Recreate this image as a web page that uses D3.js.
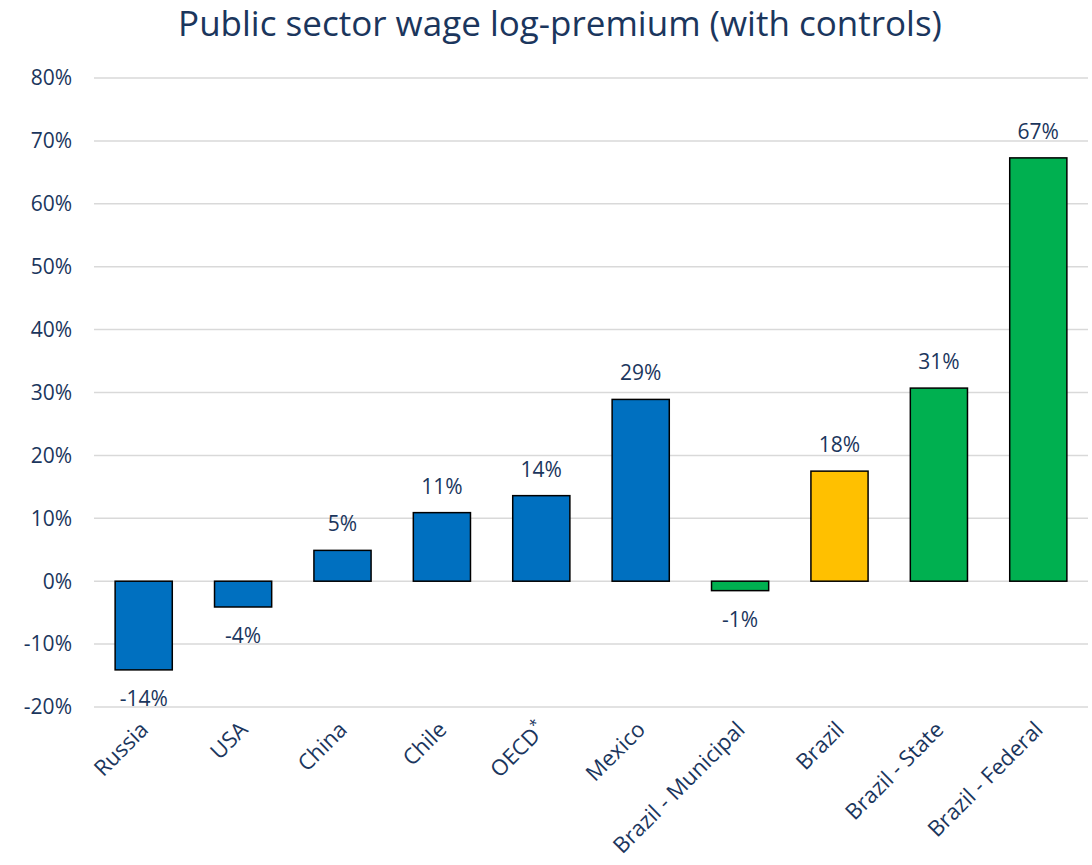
<!DOCTYPE html>
<html><head><meta charset="utf-8">
<script src="https://cdn.jsdelivr.net/npm/d3@7"></script>
<style>body{margin:0;background:#fff}svg{display:block}text{font-family:"Open Sans","Noto Sans",sans-serif;fill:#1b365d}</style>
</head><body><svg id="c" width="1092" height="865"></svg>
<script>
const categories = ["Russia","USA","China","Chile","OECD*","Mexico","Brazil - Municipal","Brazil","Brazil - State","Brazil - Federal"];
const values = [-14.1,-4.1,4.9,10.9,13.6,28.9,-1.5,17.5,30.7,67.3];
const labels = ["-14%","-4%","5%","11%","14%","29%","-1%","18%","31%","67%"];
const groups = ["other","other","other","other","other","other","brazilSub","brazil","brazilSub","brazilSub"];
const yTicks = [-20,-10,0,10,20,30,40,50,60,70,80];
const colors = {other:"#0070C0", brazil:"#FFC000", brazilSub:"#00B050"};

const svg = d3.select("#c");
const pLeft = 94, pRight = 1088, pTop = 78, pBottom = 707;
const x = d3.scaleBand().domain(categories).range([pLeft,pRight]).paddingInner(0.425).paddingOuter(0.2125);
const y = d3.scaleLinear().domain([-20,80]).range([pBottom, pTop]);

svg.append("text").attr("x",560).attr("y",36).attr("text-anchor","middle").style("font-size","35px").text("Public sector wage log-premium (with controls)");

const g = svg.append("g");
g.selectAll("line.grid").data(yTicks).join("line")
  .attr("x1",pLeft).attr("x2",pRight).attr("y1",d=>y(d)).attr("y2",d=>y(d))
  .attr("stroke","#d9d9d9").attr("stroke-width",1.5);
g.selectAll("text.yt").data(yTicks).join("text")
  .attr("x",72).attr("y",d=>y(d)).attr("dy","0.35em").attr("text-anchor","end")
  .style("font-size","21px").text(d=>d+"%");

g.selectAll("rect").data(values).join("rect")
  .attr("x",(d,i)=>x(categories[i])).attr("width",x.bandwidth())
  .attr("y",d=>y(Math.max(0,d))).attr("height",d=>Math.abs(y(d)-y(0)))
  .attr("fill",(d,i)=>colors[groups[i]]).attr("stroke","#000").attr("stroke-width",1.5);

g.selectAll("text.vl").data(values).join("text")
  .attr("x",(d,i)=>x(categories[i])+x.bandwidth()/2)
  .attr("y",d=> d>=0 ? y(d)-19 : y(d)+36)
  .attr("text-anchor","middle").style("font-size","21px")
  .text((d,i)=>labels[i]);

const xl = g.selectAll("text.xl").data(categories).join("text")
  .attr("transform",d=>`translate(${x(d)+x.bandwidth()/2+6},${731}) rotate(-45)`)
  .attr("text-anchor","end").style("font-size","22px");
xl.each(function(d){
  const t = d3.select(this);
  if (d.endsWith("*")) {
    t.append("tspan").text(d.slice(0,-1));
    t.append("tspan").attr("dy","-0.55em").style("font-size","15px").text("*");
  } else t.text(d);
});
</script></body></html>
